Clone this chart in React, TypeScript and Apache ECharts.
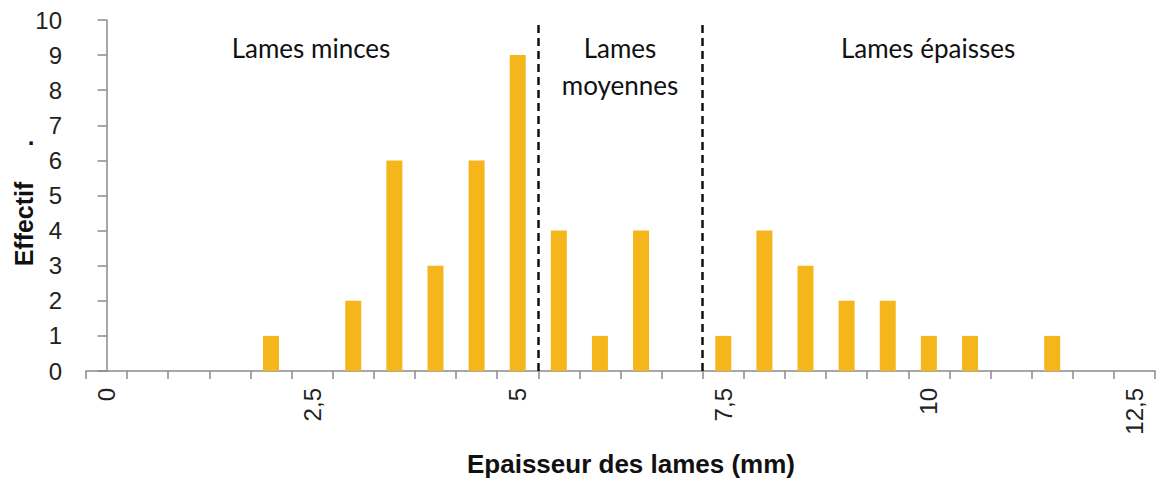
import React, { useEffect, useRef } from "react";
import * as echarts from "echarts";

const categories = ["0","0,5","1","1,5","2","2,5","3","3,5","4","4,5","5","5,5","6","6,5","7","7,5","8","8,5","9","9,5","10","10,5","11","11,5","12","12,5"];
const counts = [0,0,0,0,1,0,2,6,3,6,9,4,1,4,0,1,4,3,2,2,1,1,0,1,0,0];
const shownLabels = ["0","2,5","5","7,5","10","12,5"];
const dividers = [5.25, 7.25];
const groupLabels = ["Lames minces", "Lames\nmoyennes", "Lames épaisses"];

export default function App() {
  const ref = useRef<HTMLDivElement>(null);
  useEffect(() => {
    const chart = echarts.init(ref.current!, null, { renderer: "svg" });
    const axisColor = "#8a8a8a";
    const sans = "Liberation Sans, Arial, sans-serif";
    chart.setOption({
      animation: false,
      grid: { left: 86, right: 2, top: 20, bottom: 110, containLabel: false },
      xAxis: [
        {
          type: "category",
          data: categories,
          boundaryGap: true,
          axisLine: { lineStyle: { color: axisColor, width: 1.5 } },
          axisTick: { show: true, interval: 0, length: 8, lineStyle: { color: axisColor, width: 1.5 } },
          axisLabel: {
            interval: 0,
            rotate: 90,
            margin: 17,
            fontSize: 24,
            color: "#222",
            fontFamily: sans,
            formatter: (v: string) => (shownLabels.includes(v) ? v : ""),
          },
        },
        { type: "value", min: -0.25, max: 12.75, show: false },
      ],
      yAxis: {
        type: "value",
        min: 0,
        max: 10,
        interval: 1,
        splitLine: { show: false },
        axisLine: { show: true, lineStyle: { color: axisColor, width: 1.5 } },
        axisTick: { show: true, length: 9, lineStyle: { color: axisColor, width: 1.5 } },
        axisLabel: { margin: 24, fontSize: 24, color: "#222", fontFamily: sans },
      },
      series: [
        {
          type: "bar",
          data: counts,
          barWidth: 16,
          itemStyle: { color: "#F5B61C" },
        },
        {
          type: "scatter",
          xAxisIndex: 1,
          data: [],
          markLine: {
            symbol: "none",
            silent: true,
            label: { show: false },
            lineStyle: { color: "#111", type: [8, 5], width: 2.5 },
            data: dividers.map((d) => ({ xAxis: d })),
          },
        },
      ],
      graphic: [
        { type: "text", x: 631, y: 464, style: { text: "Epaisseur des lames (mm)", fontSize: 26, fontWeight: "bold", fill: "#111", fontFamily: sans, align: "center", verticalAlign: "middle" } },
        { type: "text", x: 24, y: 224, rotation: Math.PI / 2, style: { text: "Effectif", fontSize: 25, fontWeight: "bold", fill: "#111", fontFamily: sans, align: "center", verticalAlign: "middle" } },
        { type: "text", x: 31, y: 136, style: { text: ".", fontSize: 24, fontWeight: "bold", fill: "#111", fontFamily: sans, align: "center", verticalAlign: "middle" } },
        { type: "text", x: 311, y: 48, style: { text: groupLabels[0], fontSize: 26, fill: "#111", fontFamily: "Lato, sans-serif", align: "center", verticalAlign: "middle" } },
        { type: "text", x: 620, y: 66, style: { text: groupLabels[1], fontSize: 26, lineHeight: 37, fill: "#111", fontFamily: "Lato, sans-serif", align: "center", verticalAlign: "middle" } },
        { type: "text", x: 928, y: 48, style: { text: groupLabels[2], fontSize: 26, fill: "#111", fontFamily: "Lato, sans-serif", align: "center", verticalAlign: "middle" } },
      ],
    });
    return () => chart.dispose();
  }, []);
  return <div ref={ref} style={{ position: "absolute", left: 0, top: 0, width: 1157, height: 481 }} />;
}
